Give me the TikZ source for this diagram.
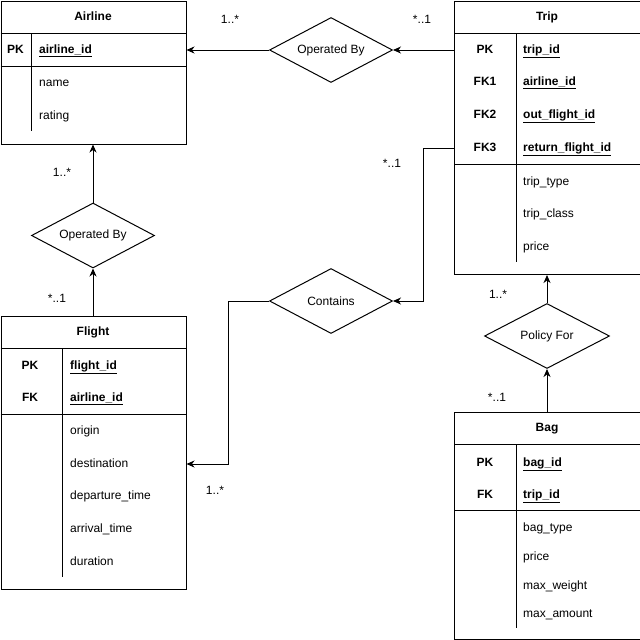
\documentclass[tikz,border=0pt]{standalone}
\usepackage{fontspec}
\setmainfont{Liberation Sans}
\usetikzlibrary{shapes.geometric}
\usetikzlibrary{arrows.meta}
\usetikzlibrary{positioning,calc}

\tikzset{
  entity/.style={draw, line width=1pt, inner sep=0pt, anchor=north west},
  rel/.style={draw, diamond, line width=1pt, aspect=2, inner sep=0pt, minimum width=123pt, minimum height=65pt},
  fld/.style={anchor=west, inner sep=0pt, text height=9pt, text depth=2.5pt},
  pkey/.style={inner sep=0pt, font=\fontsize{12}{14}\selectfont\bfseries, text height=9pt, text depth=2.5pt},
  card/.style={inner sep=0pt},
  conn/.style={line width=1pt, -{Stealth[length=8pt,width=7pt,inset=2.5pt]}}
}
\newcommand{\kf}[1]{\underline{\textbf{#1}}}

\begin{document}
\begin{tikzpicture}[x=1pt,y=-1pt,font=\fontsize{12}{14}\selectfont]
    \useasboundingbox (0,0) rectangle (640,640);

    % Airline
    \node[entity, minimum width=185pt, minimum height=143pt] (airline) at (0.5,0.5) {};
    \draw[line width=1pt] (0.5,33) -- (185.5,33);
    \draw[line width=1pt] (0.5,66) -- (185.5,66);
    \draw[line width=1pt] (31.5,33) -- (31.5,131);
    \node[pkey] (airtitle) at (93,17) {Airline};
    \node[pkey] (airpk) at (15.5,50) {PK};
    \node[fld] (airid) at (39,50) {\kf{airline\_id}};
    \node[fld] (airname) at (39,83) {name};
    \node[fld] (airrate) at (39,116) {rating};

    % Trip
    \node[entity, minimum width=185.5pt, minimum height=273.5pt] (trip) at (454,0.5) {};
    \draw[line width=1pt] (454,33) -- (639.5,33);
    \draw[line width=1pt] (454,164) -- (639.5,164);
    \draw[line width=1pt] (516,33) -- (516,262);
    \node[pkey] (triptitle) at (547,17) {Trip};
    \node[pkey] (trippk) at (485,50) {PK};
    \node[pkey] (tripfk1) at (485,82.5) {FK1};
    \node[pkey] (tripfk2) at (485,115.5) {FK2};
    \node[pkey] (tripfk3) at (485,148) {FK3};
    \node[fld] (tripid) at (523,50) {\kf{trip\_id}};
    \node[fld] (tripair) at (523,82.5) {\kf{airline\_id}};
    \node[fld] (tripout) at (523,115.5) {\kf{out\_flight\_id}};
    \node[fld] (tripret) at (523,148) {\kf{return\_flight\_id}};
    \node[fld] (triptype) at (523,182) {trip\_type};
    \node[fld] (tripclass) at (523,214) {trip\_class};
    \node[fld] (tripprice) at (523,247) {price};

    % Flight
    \node[entity, minimum width=185pt, minimum height=273pt] (flight) at (0.5,316) {};
    \draw[line width=1pt] (0.5,348) -- (185.5,348);
    \draw[line width=1pt] (0.5,414) -- (185.5,414);
    \draw[line width=1pt] (62,348) -- (62,577);
    \node[pkey] (flttitle) at (93,332) {Flight};
    \node[pkey] (fltpk) at (30,366) {PK};
    \node[pkey] (fltfk) at (30,398) {FK};
    \node[fld] (fltid) at (70,366) {\kf{flight\_id}};
    \node[fld] (fltair) at (70,398) {\kf{airline\_id}};
    \node[fld] (fltorig) at (70,431) {origin};
    \node[fld] (fltdest) at (70,464) {destination};
    \node[fld] (fltdep) at (70,496) {departure\_time};
    \node[fld] (fltarr) at (70,529) {arrival\_time};
    \node[fld] (fltdur) at (70,562) {duration};

    % Bag
    \node[entity, minimum width=185.5pt, minimum height=226.5pt] (bag) at (454,412) {};
    \draw[line width=1pt] (454,444) -- (639.5,444);
    \draw[line width=1pt] (454,510) -- (639.5,510);
    \draw[line width=1pt] (516,444) -- (516,628);
    \node[pkey] (bagtitle) at (547,428) {Bag};
    \node[pkey] (bagpk) at (485,463) {PK};
    \node[pkey] (bagfk) at (485,495) {FK};
    \node[fld] (bagid) at (523,463) {\kf{bag\_id}};
    \node[fld] (bagtrip) at (523,495) {\kf{trip\_id}};
    \node[fld] (bagtype) at (523,528) {bag\_type};
    \node[fld] (bagprice) at (523,557) {price};
    \node[fld] (bagwt) at (523,586) {max\_weight};
    \node[fld] (bagamt) at (523,614) {max\_amount};

    % relationships
    \node[rel] (opbytrip) at (331,50) {Operated By};
    \node[rel] (opbyflt) at (93,235.5) {Operated By};
    \node[rel] (contains) at (331,301) {Contains};
    \node[rel, minimum width=125pt] (policy) at (547,336) {Policy For};

    \draw[conn] (opbytrip -| trip.west) -- (opbytrip.east);
    \draw[conn] (opbytrip.west) -- (opbytrip -| airline.east);
    \draw[conn] (opbyflt |- flight.north) -- (opbyflt.south);
    \draw[conn] (opbyflt.north) -- (opbyflt |- airline.south);
    \draw[conn] (tripfk3 -| trip.west) -- ++(-31,0) |- (contains.east);
    \draw[conn] (contains.west) -- ++(-41,0) |- (fltdest -| flight.east);
    \draw[conn] (policy |- bag.north) -- (policy.south);
    \draw[conn] (policy.north) -- (policy |- trip.south);

    % cardinalities
    \node[card] (c1) at (230,19) {1..*};
    \node[card] (c2) at (422,19) {*..1};
    \node[card] (c3) at (62,172) {1..*};
    \node[card] (c4) at (57,298) {*..1};
    \node[card] (c5) at (392,163) {*..1};
    \node[card] (c6) at (215,490) {1..*};
    \node[card] (c7) at (498,294) {1..*};
    \node[card] (c8) at (497,397) {*..1};
\end{tikzpicture}
\end{document}
